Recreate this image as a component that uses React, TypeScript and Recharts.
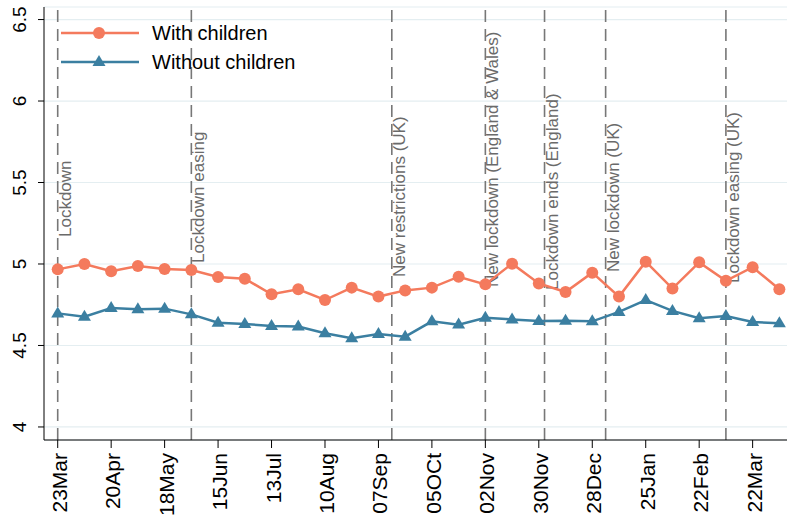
import { LineChart, Line, XAxis, YAxis, CartesianGrid, ReferenceLine } from "recharts";

// days since 23 Mar 2020, fortnightly waves
const days = [0, 14, 28, 42, 56, 70, 84, 98, 112, 126, 140, 154, 168, 182, 196, 210, 224, 238, 252, 266, 280, 294, 308, 322, 336, 350, 364, 378];

const withChildren = [4.967, 5.0, 4.955, 4.988, 4.969, 4.963, 4.92, 4.91, 4.814, 4.845, 4.779, 4.855, 4.8, 4.838, 4.855, 4.922, 4.875, 5.002, 4.881, 4.828, 4.947, 4.8, 5.014, 4.849, 5.01, 4.897, 4.98, 4.845];
const withoutChildren = [4.697, 4.677, 4.73, 4.722, 4.726, 4.691, 4.64, 4.632, 4.62, 4.616, 4.575, 4.544, 4.571, 4.554, 4.648, 4.628, 4.67, 4.66, 4.65, 4.652, 4.648, 4.706, 4.779, 4.712, 4.667, 4.681, 4.644, 4.636];

const tickDays = [0, 28, 56, 84, 112, 140, 168, 196, 224, 252, 280, 308, 336, 364];
const tickLabels = ["23Mar", "20Apr", "18May", "15Jun", "13Jul", "10Aug", "07Sep", "05OCt", "02Nov", "30Nov", "28Dec", "25Jan", "22Feb", "22Mar"];

const yTicks = [4, 4.5, 5, 5.5, 6, 6.5];

const eventDays = [0, 70, 175, 224, 255, 287, 350];
const eventLabels = [
    "Lockdown",
    "Lockdown easing",
    "New restrictions (UK)",
    "New lockdown (England & Wales)",
    "Lockdown ends (England)",
    "New lockdown (UK)",
    "Lockdown easing (UK)",
];
// where each rotated label starts (pixel y of its lower end)
const labelBottom = [237, 263, 277, 287, 290, 272, 283];

const ORANGE = "#f47a5d";
const BLUE = "#3b7fa1";
const FONT = "'Liberation Sans', Arial, sans-serif";

const data = days.map((d, i) => ({
    day: d,
    withChildren: withChildren[i],
    withoutChildren: withoutChildren[i],
}));

const tickLabelOf = (d: number) => tickLabels[tickDays.indexOf(d)] ?? "";

const XTick = (props: any) => {
    const { x, y, payload } = props;
    const bx = x + 9;
    return (
        <text
            x={bx}
            y={y}
            transform={`rotate(-90, ${bx}, ${y})`}
            textAnchor="end"
            fontSize={21}
            fontFamily={FONT}
            fill="#000"
        >
            {tickLabelOf(payload.value)}
        </text>
    );
};

const YTick = (props: any) => {
    const { x, y, payload } = props;
    return (
        <text
            x={x}
            y={y}
            transform={`rotate(-90, ${x}, ${y})`}
            textAnchor="middle"
            fontSize={19}
            fontFamily={FONT}
            fill="#000"
        >
            {payload.value}
        </text>
    );
};

const EventLabel = (text: string, bottom: number) => (props: any) => {
    const vb = props.viewBox || {};
    const bx = vb.x + 13;
    return (
        <text
            x={bx}
            y={bottom}
            transform={`rotate(-90, ${bx}, ${bottom})`}
            textAnchor="start"
            fontSize={17}
            fontFamily={FONT}
            fill="#6a6a6a"
        >
            {text}
        </text>
    );
};

const Circle = (props: any) => {
    const { cx, cy, index } = props;
    return <circle key={`c${index}`} cx={cx} cy={cy} r={6} fill={ORANGE} />;
};

const Triangle = (props: any) => {
    const { cx, cy, index } = props;
    return (
        <polygon
            key={`t${index}`}
            points={`${cx},${cy - 7} ${cx - 6.5},${cy + 4} ${cx + 6.5},${cy + 4}`}
            fill={BLUE}
        />
    );
};

const LegendOverlay = () => (
    <svg width={320} height={80} style={{ position: "absolute", left: 0, top: 0 }}>
        <line x1={61} x2={139} y1={33} y2={33} stroke={ORANGE} strokeWidth={2.5} />
        <circle cx={99} cy={33} r={6} fill={ORANGE} />
        <text x={152} y={40} fontSize={20} fontFamily={FONT} fill="#000">
            With children
        </text>
        <line x1={61} x2={139} y1={62} y2={62} stroke={BLUE} strokeWidth={2.5} />
        <polygon points="99,55 92.5,66 105.5,66" fill={BLUE} />
        <text x={152} y={69} fontSize={20} fontFamily={FONT} fill="#000">
            Without children
        </text>
    </svg>
);

export default function App() {
    return (
        <div style={{ position: "absolute", left: 0, top: 0, width: 787, height: 515, background: "#fff" }}>
            <LineChart
                width={787}
                height={515}
                data={data}
                margin={{ top: 7, right: 0, left: 0, bottom: 0 }}
            >
                <CartesianGrid vertical={false} stroke="#e4eef1" strokeWidth={1.2} />
                <XAxis
                    dataKey="day"
                    type="number"
                    domain={[-7.18, 382]}
                    ticks={tickDays}
                    interval={0}
                    height={75}
                    tickSize={8}
                    tickMargin={5}
                    tick={<XTick />}
                    stroke="#000"
                    allowDataOverflow
                />
                <YAxis
                    type="number"
                    domain={[3.92, 6.577]}
                    ticks={yTicks}
                    width={44}
                    tickSize={6}
                    tickMargin={12}
                    tick={<YTick />}
                    stroke="#000"
                    allowDataOverflow
                />
                {eventDays.map((d, i) => (
                    <ReferenceLine
                        key={d}
                        x={d}
                        stroke="#777"
                        strokeWidth={1.6}
                        strokeDasharray="12 7"
                        label={EventLabel(eventLabels[i], labelBottom[i])}
                    />
                ))}
                <Line
                    dataKey="withChildren"
                    stroke={ORANGE}
                    strokeWidth={2.5}
                    dot={Circle}
                    activeDot={false}
                    isAnimationActive={false}
                />
                <Line
                    dataKey="withoutChildren"
                    stroke={BLUE}
                    strokeWidth={2.5}
                    dot={Triangle}
                    activeDot={false}
                    isAnimationActive={false}
                />
            </LineChart>
            <LegendOverlay />
        </div>
    );
}
